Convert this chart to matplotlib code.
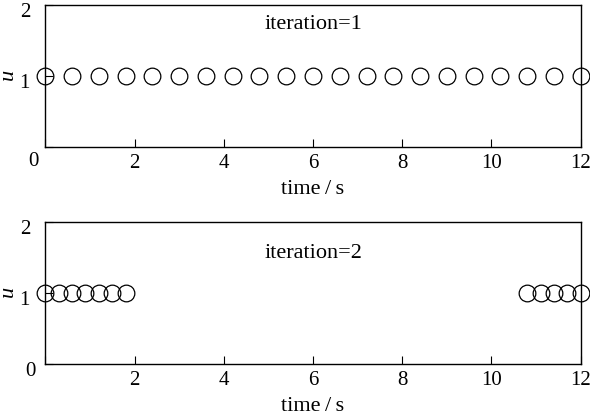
import matplotlib
matplotlib.use("Agg")
import matplotlib.pyplot as plt
import matplotlib.transforms as mtransforms

plt.rcParams['font.family'] = ['Liberation Serif', 'DejaVu Serif']
plt.rcParams['mathtext.fontset'] = 'custom'
plt.rcParams['mathtext.it'] = 'Liberation Serif:italic'

# Data
t_iter1 = [0.0, 0.6, 1.2, 1.8, 2.4, 3.0, 3.6, 4.2, 4.8, 5.4, 6.0,
           6.6, 7.2, 7.8, 8.4, 9.0, 9.6, 10.2, 10.8, 11.4, 12.0]
u_iter1 = [1] * len(t_iter1)
t_iter2 = [0.0, 0.3, 0.6, 0.9, 1.2, 1.5, 1.8,
           10.8, 11.1, 11.4, 11.7, 12.0]
u_iter2 = [1] * len(t_iter2)
titles = ["iteration=1", "iteration=2"]
xticks = [0, 2, 4, 6, 8, 10, 12]
xtick_labels = ["", "2", "4", "6", "8", "10", "12"]
yticks = [0, 1, 2]

fig = plt.figure(figsize=(5.9, 4.19), dpi=100)
ax1 = fig.add_axes([0.0768, 0.650, 0.9075, 0.338])
ax2 = fig.add_axes([0.0768, 0.131, 0.9075, 0.338])

fs = 15
px = lambda dx, dy: mtransforms.ScaledTranslation(dx / 100, dy / 100, fig.dpi_scale_trans)

for ax, t, u, title, ty in [(ax1, t_iter1, u_iter1, titles[0], 1.72),
                            (ax2, t_iter2, u_iter2, titles[1], 1.56)]:
    ax.plot(t, u, linestyle='none', marker='o', markersize=12,
            markerfacecolor='none', markeredgecolor='black',
            markeredgewidth=0.9, clip_on=False, zorder=3)
    ax.set_xlim(0, 12)
    ax.set_ylim(0, 2)
    ax.set_xticks(xticks)
    ax.set_xticklabels(xtick_labels, fontsize=fs)
    ax.set_yticks(yticks)
    ax.set_yticklabels([str(v) for v in yticks], fontsize=fs)
    ax.tick_params(direction='in', length=6, width=0.8, top=False, right=False)
    ax.tick_params(axis='x', pad=5)
    ax.tick_params(axis='y', pad=11)
    for sp in ax.spines.values():
        sp.set_linewidth(1.0)
    ax.set_xlabel("time\u2009/\u2009s", fontsize=16, labelpad=5)
    ax.set_ylabel("$u$", fontsize=16)
    ax.yaxis.set_label_coords(-0.05, 0.5)
    ax.text(6, ty, title, ha='center', va='center', fontsize=16)
    for lbl in ax.get_yticklabels():
        lbl.set_transform(lbl.get_transform() + px(0, -5))

# the "0" labels sit closer to the axis (and lower in the top panel)
lbl_top0 = ax1.get_yticklabels()[0]
lbl_top0.set_transform(lbl_top0.get_transform() + px(9, -7))
lbl_bot0 = ax2.get_yticklabels()[0]
lbl_bot0.set_transform(lbl_bot0.get_transform() + px(6, 0))

fig.savefig("out.png", dpi=100)
